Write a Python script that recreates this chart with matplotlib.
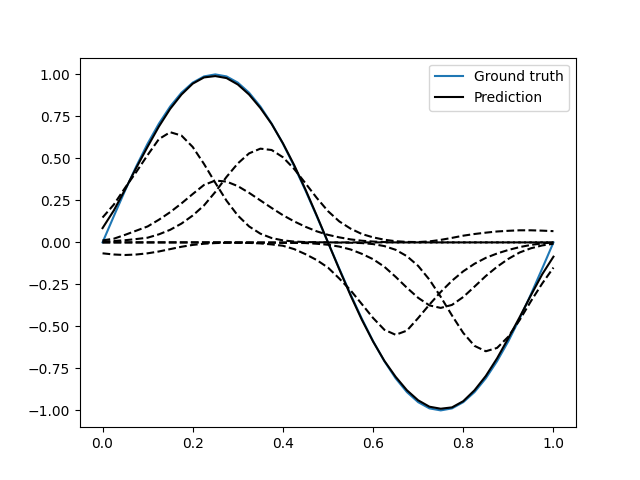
import numpy as np
import matplotlib
matplotlib.use('Agg')
import matplotlib.pyplot as plt

# sample positions (0 .. 1, step 0.025)
x = np.linspace(0, 1, 41)

ground_truth = [0.0, 0.156, 0.309, 0.454, 0.588, 0.707, 0.809, 0.891, 0.951, 0.988,
                1.0, 0.988, 0.951, 0.891, 0.809, 0.707, 0.588, 0.454, 0.309, 0.156,
                0.0, -0.156, -0.309, -0.454, -0.588, -0.707, -0.809, -0.891, -0.951, -0.988,
                -1.0, -0.988, -0.951, -0.891, -0.809, -0.707, -0.588, -0.454, -0.309, -0.156,
                0.0]

prediction = [0.085, 0.19, 0.315, 0.445, 0.57, 0.69, 0.795, 0.88, 0.945, 0.982,
              0.99, 0.978, 0.94, 0.88, 0.8, 0.705, 0.59, 0.46, 0.315, 0.16,
              0.0, -0.16, -0.315, -0.46, -0.59, -0.705, -0.8, -0.88, -0.94, -0.978,
              -0.99, -0.982, -0.945, -0.88, -0.795, -0.69, -0.57, -0.445, -0.315, -0.19,
              -0.085]

# weighted basis functions (dashed)
comp1 = [0.148, 0.225, 0.325, 0.42, 0.52, 0.615, 0.656, 0.636, 0.568, 0.467,
         0.355, 0.248, 0.16, 0.095, 0.052, 0.026, 0.012, 0.005, 0.002, 0.001,
         0.0, 0.0, 0.0, 0.0, 0.0, 0.0, 0.0, 0.0, 0.0, 0.0,
         0.0, 0.0, 0.0, 0.0, 0.0, 0.0, 0.0, 0.0, 0.0, 0.0,
         0.0]
comp2 = [0.012, 0.022, 0.045, 0.07, 0.095, 0.135, 0.18, 0.232, 0.288, 0.342,
         0.368, 0.362, 0.335, 0.295, 0.25, 0.205, 0.162, 0.125, 0.093, 0.066,
         0.045, 0.03, 0.018, 0.01, 0.005, 0.002, 0.0, 0.0, 0.0, 0.0,
         0.0, 0.0, 0.0, 0.0, 0.0, 0.0, 0.0, 0.0, 0.0, 0.0,
         0.0]
comp3 = [0.005, 0.008, 0.013, 0.02, 0.028, 0.048, 0.075, 0.112, 0.16, 0.22,
         0.3, 0.39, 0.47, 0.53, 0.558, 0.55, 0.507, 0.437, 0.352, 0.265,
         0.186, 0.125, 0.082, 0.05, 0.03, 0.016, 0.007, 0.003, 0.002, 0.006,
         0.015, 0.027, 0.04, 0.05, 0.058, 0.065, 0.069, 0.072, 0.072, 0.07,
         0.067]
comp4 = [-0.065, -0.072, -0.075, -0.072, -0.065, -0.054, -0.04, -0.026, -0.015, -0.008,
         -0.004, -0.002, -0.002, -0.003, -0.006, -0.012, -0.02, -0.04, -0.07, -0.105,
         -0.15, -0.215, -0.285, -0.367, -0.45, -0.52, -0.55, -0.525, -0.45, -0.37,
         -0.295, -0.228, -0.172, -0.127, -0.092, -0.066, -0.045, -0.028, -0.015, -0.006,
         0.0]
comp5 = [0.0, 0.0, 0.0, 0.0, 0.0, 0.0, 0.0, 0.0, 0.0, 0.0,
         0.0, 0.0, -0.001, -0.001, -0.002, -0.002, -0.003, -0.003, -0.004, -0.008,
         -0.014, -0.025, -0.042, -0.068, -0.1, -0.145, -0.205, -0.27, -0.33, -0.375,
         -0.39, -0.372, -0.325, -0.263, -0.2, -0.145, -0.098, -0.06, -0.035, -0.018,
         -0.008]
comp6 = [0.0, 0.0, 0.0, 0.0, 0.0, 0.0, 0.0, 0.0, 0.0, 0.0,
         0.0, 0.0, 0.0, 0.0, 0.0, 0.0, 0.0, 0.0, 0.0, 0.0,
         0.0, -0.001, -0.002, -0.004, -0.01, -0.022, -0.044, -0.082, -0.14, -0.222,
         -0.324, -0.435, -0.539, -0.616, -0.648, -0.628, -0.561, -0.462, -0.35, -0.245,
         -0.15]

components = [comp1, comp2, comp3, comp4, comp5, comp6]

fig = plt.figure(figsize=(6.4, 4.8), dpi=100)
plt.plot(x, ground_truth, label='Ground truth')
plt.plot(x, prediction, 'k', label='Prediction')
for c in components:
    plt.plot(x, c, 'k--')
plt.legend()
plt.savefig('out.png')
